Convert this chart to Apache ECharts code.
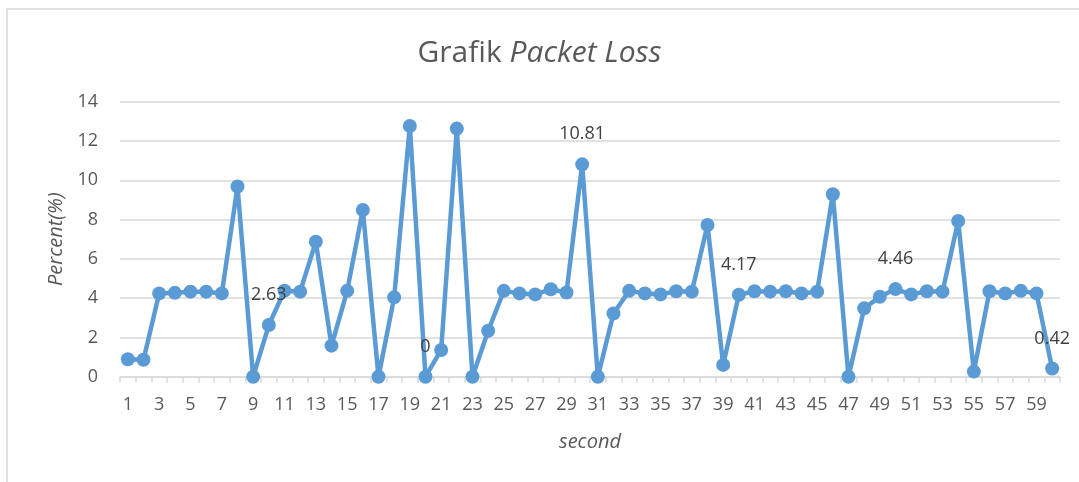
<!DOCTYPE html>
<html>
<head>
<meta charset="utf-8">
<script src="https://cdn.jsdelivr.net/npm/echarts@6/dist/echarts.min.js"></script>
<style>
html,body{margin:0;padding:0;background:#fff;}
#chart{width:1079px;height:482px;}
</style>
</head>
<body>
<div id="chart"></div>
<script>
const categories = Array.from({length: 60}, (_, i) => String(i + 1));
const packetLoss = [
  0.89, 0.86, 4.24, 4.27, 4.33, 4.33, 4.24, 9.68, 0, 2.63,
  4.38, 4.33, 6.87, 1.58, 4.37, 8.49, 0, 4.04, 12.76, 0,
  1.36, 12.63, 0, 2.34, 4.37, 4.24, 4.19, 4.45, 4.29, 10.81,
  0, 3.22, 4.37, 4.24, 4.19, 4.35, 4.33, 7.72, 0.6, 4.17,
  4.35, 4.33, 4.35, 4.24, 4.33, 9.29, 0, 3.48, 4.07, 4.46,
  4.19, 4.35, 4.33, 7.93, 0.26, 4.35, 4.24, 4.37, 4.24, 0.42
];
const labeledIndices = [9, 19, 29, 39, 49, 59];
const yTicks = [0, 2, 4, 6, 8, 10, 12, 14];

const textColor = '#595959';
const fontFam = '"Open Sans", "Liberation Sans", sans-serif';

const seriesData = packetLoss.map((v, i) => labeledIndices.includes(i)
  ? {value: v, label: {show: true}}
  : {value: v});

const chart = echarts.init(document.getElementById('chart'));
chart.setOption({
  backgroundColor: '#fff',
  animation: false,
  graphic: [{
    type: 'rect',
    shape: {x: 7, y: 9, width: 1100, height: 520},
    style: {fill: 'none', stroke: '#d9d9d9', lineWidth: 1.5},
    silent: true
  }],
  title: {
    text: '{n|Grafik }{i|Packet Loss}',
    left: 'center',
    top: 33,
    textStyle: {
      fontWeight: 'normal',
      rich: {
        n: {fontSize: 30, color: textColor, fontFamily: fontFam, fontWeight: 'normal'},
        i: {fontSize: 30, color: textColor, fontFamily: fontFam, fontStyle: 'italic', fontWeight: 'normal'}
      }
    }
  },
  grid: {left: 120, right: 19, top: 101.7, bottom: 105.3},
  xAxis: {
    type: 'category',
    data: categories,
    boundaryGap: true,
    name: 'second',
    nameLocation: 'middle',
    nameGap: 56,
    nameTextStyle: {fontSize: 20, color: textColor, fontStyle: 'italic', fontFamily: fontFam},
    axisLine: {lineStyle: {color: '#d9d9d9', width: 1.5}},
    axisTick: {show: true, interval: 0, length: 6, lineStyle: {color: '#d9d9d9', width: 1.5}},
    axisLabel: {interval: 1, fontSize: 18, color: textColor, margin: 19, fontFamily: fontFam}
  },
  yAxis: {
    type: 'value',
    min: 0,
    max: 14,
    interval: 2,
    name: 'Percent(%)',
    nameLocation: 'middle',
    nameGap: 54,
    nameTextStyle: {fontSize: 20, color: textColor, fontStyle: 'italic', fontFamily: fontFam},
    axisLine: {show: false},
    axisTick: {show: false},
    splitLine: {lineStyle: {color: '#d9d9d9', width: 1.5}},
    axisLabel: {
      fontSize: 18, color: textColor, margin: 22, fontFamily: fontFam,
      formatter: v => yTicks.includes(v) ? String(v) : ''
    }
  },
  series: [{
    type: 'line',
    data: seriesData,
    symbol: 'circle',
    symbolSize: 14,
    showSymbol: true,
    showAllSymbol: true,
    lineStyle: {color: '#5b9bd5', width: 4.5},
    itemStyle: {color: '#5b9bd5'},
    label: {
      show: false,
      position: 'top',
      distance: 14,
      fontSize: 18,
      color: '#404040',
      fontFamily: fontFam
    },
    labelLayout: {hideOverlap: false},
    z: 3
  }]
});
</script>
</body>
</html>
